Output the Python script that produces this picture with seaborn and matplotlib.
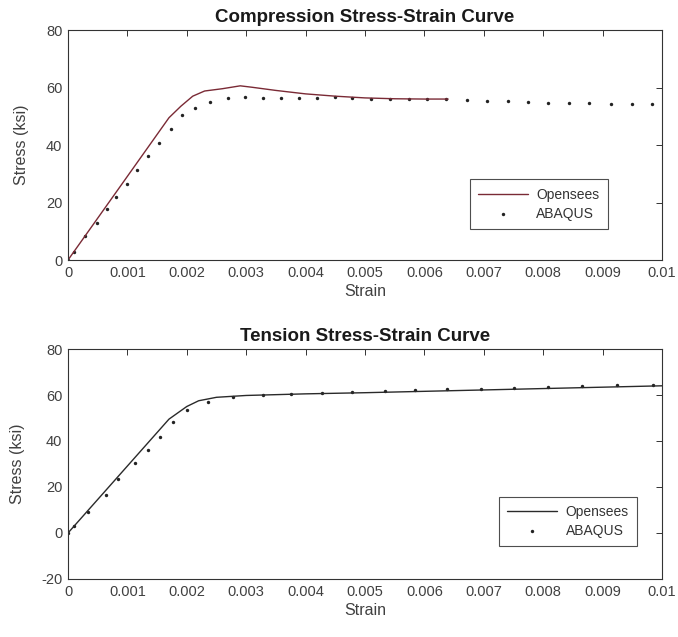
import pandas as pd
import matplotlib.pyplot as plt
import seaborn as sns

# compression - Opensees curve
comp_line_strain = [0, 0.0017, 0.0019, 0.0021, 0.0023, 0.0026, 0.0029, 0.0031,
                    0.0035, 0.004, 0.0045, 0.005, 0.0055, 0.006, 0.0064]
comp_line_stress = [0, 49.5, 53.5, 57.0, 58.8, 59.6, 60.6, 60.1,
                    59.0, 57.8, 57.0, 56.4, 56.1, 56.0, 56.0]

# compression - ABAQUS points
comp_pts_strain = [0, 0.0001, 0.00029, 0.00048, 0.00065, 0.0008, 0.00099, 0.00117,
                   0.00135, 0.00154, 0.00173, 0.00192, 0.00213, 0.00239, 0.00269,
                   0.00298, 0.00328, 0.00359, 0.00389, 0.0042, 0.00449, 0.00479,
                   0.0051, 0.00542, 0.00574, 0.00605, 0.00637, 0.00671, 0.00706,
                   0.0074, 0.00774, 0.00809, 0.00843, 0.00878, 0.00914, 0.00949,
                   0.00984]
comp_pts_stress = [0, 2.8, 8.3, 13.0, 17.6, 21.8, 26.4, 31.3,
                   36.2, 40.8, 45.7, 50.4, 53.0, 55.0, 56.5,
                   56.6, 56.5, 56.5, 56.5, 56.3, 56.6, 56.2,
                   56.1, 56.0, 56.0, 55.9, 55.9, 55.7, 55.4,
                   55.3, 55.1, 54.8, 54.7, 54.5, 54.4, 54.2,
                   54.2]

# tension - Opensees curve
tens_line_strain = [0, 0.0017, 0.002, 0.0022, 0.0025, 0.003, 0.004, 0.005,
                    0.006, 0.007, 0.008, 0.009, 0.01]
tens_line_stress = [0, 49.5, 55.0, 57.5, 59.0, 59.8, 60.5, 61.0,
                    61.6, 62.2, 62.8, 63.4, 64.0]

# tension - ABAQUS points
tens_pts_strain = [0, 0.0001, 0.00034, 0.00064, 0.00085, 0.00112, 0.00134, 0.00155,
                   0.00177, 0.00201, 0.00235, 0.00278, 0.00328, 0.00375, 0.00427,
                   0.00479, 0.00534, 0.00584, 0.00638, 0.00696, 0.00751, 0.00809,
                   0.00866, 0.00924, 0.00985]
tens_pts_stress = [0, 2.9, 9.3, 16.4, 23.3, 30.6, 36.2, 41.9,
                   48.1, 53.5, 57.0, 59.3, 60.0, 60.4, 61.0,
                   61.4, 61.7, 62.0, 62.5, 62.7, 63.0, 63.3,
                   63.8, 64.2, 64.3]

x_ticks = [0, 0.001, 0.002, 0.003, 0.004, 0.005, 0.006, 0.007, 0.008, 0.009, 0.01]
x_tick_labels = ["0", "0.001", "0.002", "0.003", "0.004", "0.005",
                 "0.006", "0.007", "0.008", "0.009", "0.01"]

sns.set_theme(style="white")
plt.rcParams["font.family"] = ["Liberation Sans", "DejaVu Sans"]
plt.rcParams["axes.unicode_minus"] = False

fig = plt.figure(figsize=(6.78, 6.37), dpi=100)
ax1 = fig.add_axes([0.1003, 0.5918, 0.876, 0.361])
ax2 = fig.add_axes([0.1003, 0.0911, 0.876, 0.361])


def draw_panel(ax, line_x, line_y, pts_x, pts_y, line_color, title, ylim, yticks,
               legend_anchor, ylabel_x):
    line_df = pd.DataFrame({"Strain": line_x, "Stress": line_y})
    pts_df = pd.DataFrame({"Strain": pts_x, "Stress": pts_y})
    sns.lineplot(data=line_df, x="Strain", y="Stress", ax=ax, color=line_color,
                 linewidth=1.0, label="Opensees", sort=False)
    sns.scatterplot(data=pts_df, x="Strain", y="Stress", ax=ax, color="#222222",
                    marker="o", s=6, linewidth=0, label="ABAQUS")
    ax.set_xlim(0, 0.01)
    ax.set_ylim(*ylim)
    ax.set_xticks(x_ticks)
    ax.set_xticklabels(x_tick_labels)
    ax.set_yticks(yticks)
    ax.set_title(title, fontsize=13.5, fontweight="bold", color="#1a1a1a", pad=6)
    ax.set_xlabel("Strain", fontsize=11.5, color="#404040", labelpad=3)
    ax.set_ylabel("Stress (ksi)", fontsize=11.5, color="#404040")
    ax.yaxis.set_label_coords(ylabel_x, 0.5)
    ax.tick_params(direction="in", length=4, width=0.7, top=True, right=True,
                   labelsize=10.5, labelcolor="#404040", color="#333333", pad=4)
    for spine in ax.spines.values():
        spine.set_color("#333333")
        spine.set_linewidth(0.8)
    leg = ax.legend(loc="lower right", bbox_to_anchor=legend_anchor, fontsize=10,
                    frameon=True, fancybox=False, edgecolor="#222222",
                    handlelength=3.6, borderpad=0.6, labelspacing=0.35,
                    handletextpad=0.6, borderaxespad=0)
    leg.get_frame().set_linewidth(0.8)
    for t in leg.get_texts():
        t.set_color("#333333")


draw_panel(ax1, comp_line_strain, comp_line_stress, comp_pts_strain, comp_pts_stress,
           "#7a2a35", "Compression Stress-Strain Curve", (0, 80), [0, 20, 40, 60, 80],
           (0.909, 0.135), -0.065)
draw_panel(ax2, tens_line_strain, tens_line_stress, tens_pts_strain, tens_pts_stress,
           "#2a2a2a", "Tension Stress-Strain Curve", (-20, 80), [-20, 0, 20, 40, 60, 80],
           (0.958, 0.143), -0.072)

fig.savefig("out.png", dpi=100)
